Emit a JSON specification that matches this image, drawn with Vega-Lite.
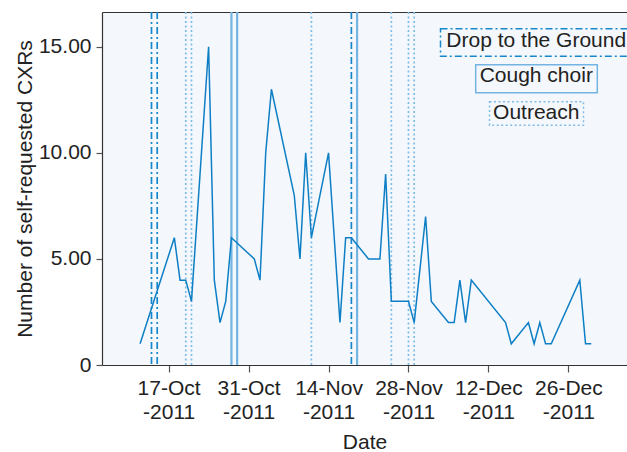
{
  "$schema": "https://vega.github.io/schema/vega-lite/v6.json",
  "autosize": {"type": "fit", "contains": "padding"},
  "width": 627,
  "height": 452,
  "padding": {"left": 14, "top": 10, "right": 0, "bottom": 0},
  "config": {
    "font": "Liberation Sans",
    "view": {"fill": "#f4f8fc", "stroke": null},
    "axis": {"labelFontSize": 21, "titleFontSize": 21, "titleFontWeight": "normal", "labelColor": "#222", "titleColor": "#222", "domainColor": "#333", "domainWidth": 1.2, "tickColor": "#555", "tickWidth": 1.2, "grid": false}
  },
  "datasets": {
    "counts": [
      {"date": "2011-10-12", "count": 1},
      {"date": "2011-10-18", "count": 6},
      {"date": "2011-10-19", "count": 4},
      {"date": "2011-10-20", "count": 4},
      {"date": "2011-10-21", "count": 3},
      {"date": "2011-10-24", "count": 15},
      {"date": "2011-10-25", "count": 4},
      {"date": "2011-10-26", "count": 2},
      {"date": "2011-10-27", "count": 3},
      {"date": "2011-10-28", "count": 6},
      {"date": "2011-11-01", "count": 5},
      {"date": "2011-11-02", "count": 4},
      {"date": "2011-11-03", "count": 10},
      {"date": "2011-11-04", "count": 13},
      {"date": "2011-11-08", "count": 8},
      {"date": "2011-11-09", "count": 5},
      {"date": "2011-11-10", "count": 10},
      {"date": "2011-11-11", "count": 6},
      {"date": "2011-11-14", "count": 10},
      {"date": "2011-11-16", "count": 2},
      {"date": "2011-11-17", "count": 6},
      {"date": "2011-11-18", "count": 6},
      {"date": "2011-11-21", "count": 5},
      {"date": "2011-11-23", "count": 5},
      {"date": "2011-11-24", "count": 9},
      {"date": "2011-11-25", "count": 3},
      {"date": "2011-11-28", "count": 3},
      {"date": "2011-11-29", "count": 2},
      {"date": "2011-12-01", "count": 7},
      {"date": "2011-12-02", "count": 3},
      {"date": "2011-12-05", "count": 2},
      {"date": "2011-12-06", "count": 2},
      {"date": "2011-12-07", "count": 4},
      {"date": "2011-12-08", "count": 2},
      {"date": "2011-12-09", "count": 4},
      {"date": "2011-12-15", "count": 2},
      {"date": "2011-12-16", "count": 1},
      {"date": "2011-12-19", "count": 2},
      {"date": "2011-12-20", "count": 1},
      {"date": "2011-12-21", "count": 2},
      {"date": "2011-12-22", "count": 1},
      {"date": "2011-12-23", "count": 1},
      {"date": "2011-12-28", "count": 4},
      {"date": "2011-12-29", "count": 1},
      {"date": "2011-12-30", "count": 1}
    ],
    "events": [
      {"date": "2011-10-14", "type": "Drop to the Ground"},
      {"date": "2011-10-15", "type": "Drop to the Ground"},
      {"date": "2011-11-18", "type": "Drop to the Ground"},
      {"date": "2011-10-28", "type": "Cough choir"},
      {"date": "2011-10-29", "type": "Cough choir"},
      {"date": "2011-11-19", "type": "Cough choir"},
      {"date": "2011-10-20", "type": "Outreach"},
      {"date": "2011-10-21", "type": "Outreach"},
      {"date": "2011-11-11", "type": "Outreach"},
      {"date": "2011-11-25", "type": "Outreach"},
      {"date": "2011-11-28", "type": "Outreach"},
      {"date": "2011-11-29", "type": "Outreach"}
    ]
  },
  "layer": [
    {
      "data": {"name": "events"},
      "mark": {"type": "rule"},
      "encoding": {
        "x": {
          "field": "date", "type": "temporal",
          "scale": {"type": "utc", "domain": [{"year": 2011, "month": 10, "date": 5, "hours": 8, "utc": true}, {"year": 2012, "month": 1, "date": 5, "hours": 6, "minutes": 20, "utc": true}]},
          "axis": {
            "values": [
              {"year": 2011, "month": 10, "date": 17, "utc": true},
              {"year": 2011, "month": 10, "date": 31, "utc": true},
              {"year": 2011, "month": 11, "date": 14, "utc": true},
              {"year": 2011, "month": 11, "date": 28, "utc": true},
              {"year": 2011, "month": 12, "date": 12, "utc": true},
              {"year": 2011, "month": 12, "date": 26, "utc": true}
            ],
            "labelExpr": "[utcFormat(datum.value, '%d-%b'), utcFormat(datum.value, '-%Y')]",
            "tickSize": 7, "labelPadding": 5, "labelLineHeight": 24, "labelFlush": false, "labelOverlap": false,
            "title": "Date", "titlePadding": 9
          }
        },
        "color": {
          "field": "type", "type": "nominal",
          "scale": {"domain": ["Drop to the Ground", "Cough choir", "Outreach"], "range": ["#1787cc", "#74b4e2", "#7ebce7"]},
          "legend": {
            "orient": "top-right", "offset": -9, "title": " ", "titleFontSize": 14, "titlePadding": 13, "padding": 0,
            "symbolSize": 100, "symbolStrokeWidth": 1.5, "labelAlign": "center", "labelOffset": -10.75,
            "labelFontSize": 21, "labelColor": "#222", "labelLimit": 400, "rowPadding": 1.5,
            "encode": {"symbols": {"shape": {"value": {"expr": "datum.value == 'Drop to the Ground' ? 'M-19.2,-2.33L19.2,-2.33L19.2,3.13L-19.2,3.13Z' : datum.value == 'Cough choir' ? 'M-12.16,-2.24L12.16,-2.24L12.16,3.36L-12.16,3.36Z' : 'M-9.4,-2.17L9.4,-2.17L9.4,2.57L-9.4,2.57Z'"}}, "fill": {"value": "transparent"}}},
            "encoding": {"symbols": {"shape": {"value": {"expr": "datum.value == 'Drop to the Ground' ? 'M-19.2,-2.33L19.2,-2.33L19.2,3.13L-19.2,3.13Z' : datum.value == 'Cough choir' ? 'M-12.16,-2.24L12.16,-2.24L12.16,3.36L-12.16,3.36Z' : 'M-9.4,-2.17L9.4,-2.17L9.4,2.57L-9.4,2.57Z'"}}, "fill": {"value": "transparent"}}}
          }
        },
        "strokeDash": {
          "field": "type", "type": "nominal",
          "scale": {"domain": ["Drop to the Ground", "Cough choir", "Outreach"], "range": [[7, 3, 2, 3], [1, 0], [2, 2.5]]},
          "legend": {
            "orient": "top-right", "offset": -9, "title": " ", "titleFontSize": 14, "titlePadding": 13, "padding": 0,
            "symbolSize": 100, "symbolStrokeWidth": 1.5, "labelAlign": "center", "labelOffset": -10.75,
            "labelFontSize": 21, "labelColor": "#222", "labelLimit": 400, "rowPadding": 1.5
          }
        },
        "strokeWidth": {"condition": {"test": "datum.type == 'Cough choir'", "value": 2.2}, "value": 1.7}
      }
    },
    {
      "data": {"name": "counts"},
      "mark": {"type": "line", "color": "#0e7fc5", "strokeWidth": 1.5},
      "encoding": {
        "x": {
          "field": "date", "type": "temporal",
          "scale": {"type": "utc", "domain": [{"year": 2011, "month": 10, "date": 5, "hours": 8, "utc": true}, {"year": 2012, "month": 1, "date": 5, "hours": 6, "minutes": 20, "utc": true}]},
          "axis": {"orient": "top", "labels": false, "ticks": false, "title": null, "domainColor": "#333"}
        },
        "y": {
          "field": "count", "type": "quantitative",
          "scale": {"domain": [0, 16.64], "nice": false},
          "axis": {
            "values": [0, 5, 10, 15],
            "labelExpr": "datum.value == 0 ? '0' : format(datum.value, '.2f')",
            "tickSize": 6, "labelPadding": 5,
            "title": "Number of self-requested CXRs", "titlePadding": 3
          }
        }
      }
    }
  ],
  "resolve": {"axis": {"x": "independent"}}
}
